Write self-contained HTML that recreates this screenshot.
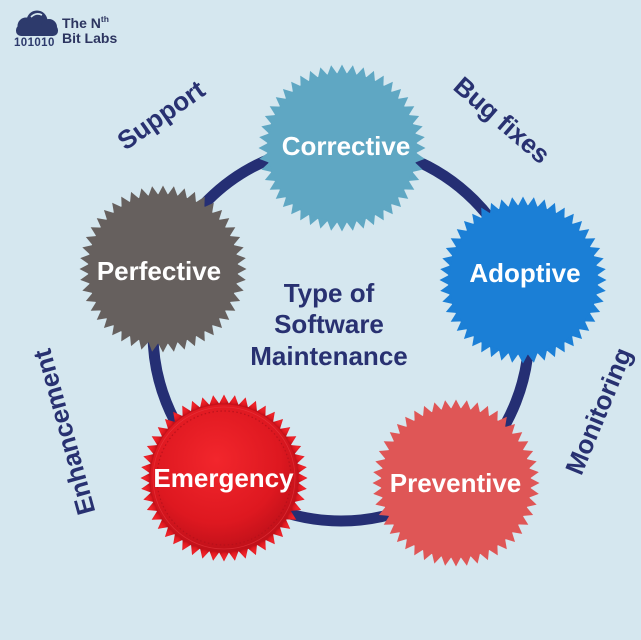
<!DOCTYPE html>
<html>
<head>
<meta charset="utf-8">
<style>
  html,body{margin:0;padding:0;background:#d5e7ef;}
  svg{display:block;}
  text{font-family:"Liberation Sans",Arial,sans-serif;font-weight:bold;}
</style>
</head>
<body>
<svg width="641" height="640" viewBox="0 0 641 640" xmlns="http://www.w3.org/2000/svg">
  <defs>
    <path id="t" d="M-5.3,-73.5 L0,-83.5 L5.3,-73.5 Z"/>
    <g id="t2"><use href="#t"/><use href="#t" transform="rotate(7.5)"/></g>
    <g id="t4"><use href="#t2"/><use href="#t2" transform="rotate(15)"/></g>
    <g id="t8"><use href="#t4"/><use href="#t4" transform="rotate(30)"/></g>
    <g id="t16"><use href="#t8"/><use href="#t8" transform="rotate(60)"/></g>
    <g id="star">
      <circle r="75"/>
      <use href="#t16"/>
      <use href="#t16" transform="rotate(120)"/>
      <use href="#t16" transform="rotate(240)"/>
    </g>
    <radialGradient id="redg" cx="45%" cy="38%" r="60%">
      <stop offset="0%" stop-color="#f2262c"/>
      <stop offset="70%" stop-color="#de1820"/>
      <stop offset="100%" stop-color="#c2111a"/>
    </radialGradient>
  </defs>

  <rect width="641" height="640" fill="#d5e7ef"/>

  <!-- logo -->
  <g fill="#2d3a6c">
    <circle cx="26" cy="26" r="8.5"/>
    <circle cx="37" cy="21" r="10.5"/>
    <circle cx="49" cy="27" r="8"/>
    <rect x="16" y="25" width="42" height="11" rx="5"/>
  </g>
  <path d="M31,17 Q36,12 42,15" stroke="#d5e7ef" stroke-width="1.6" fill="none"/>
  <text x="14" y="46" font-size="11.5" fill="#2d3a6c" letter-spacing="0.4">101010</text>
  <text x="62" y="28" font-size="14" fill="#2d3560">The N<tspan font-size="8.5" dy="-6">th</tspan></text>
  <text x="62" y="43" font-size="14" dy="0" fill="#2d3560">Bit Labs</text>

  <!-- ring -->
  <circle cx="341" cy="333" r="188" fill="none" stroke="#252f74" stroke-width="11"/>

  <!-- badges -->
  <use href="#star" transform="translate(342,148)" fill="#5fa7c3"/>
  <use href="#star" transform="translate(523,280)" fill="#1b7fd6"/>
  <use href="#star" transform="translate(456,483)" fill="#df5656"/>
  <use href="#star" transform="translate(224,478)" fill="url(#redg)"/>
  <circle cx="224" cy="478" r="67" fill="none" stroke="#b3101a" stroke-width="1.2" stroke-dasharray="1.5 2.5" opacity="0.8"/>
  <circle cx="224" cy="478" r="71" fill="none" stroke="#f04048" stroke-width="0.8" opacity="0.5"/>
  <use href="#star" transform="translate(163,269)" fill="#66605e"/>

  <!-- badge labels -->
  <g fill="#ffffff" font-size="26" text-anchor="middle">
    <text x="346" y="155">Corrective</text>
    <text x="525" y="282">Adoptive</text>
    <text x="455.5" y="492">Preventive</text>
    <text x="223.5" y="487">Emergency</text>
    <text x="159" y="280">Perfective</text>
  </g>

  <!-- center text -->
  <g fill="#283171" font-size="26" text-anchor="middle">
    <text x="329" y="302">Type of</text>
    <text x="329" y="333">Software</text>
    <text x="329" y="365">Maintenance</text>
  </g>

  <!-- rotated labels -->
  <g fill="#283171" font-size="26" text-anchor="middle">
    <text x="161" y="124" transform="rotate(-35 161 115)">Support</text>
    <text x="502" y="129" transform="rotate(40.8 502 120)">Bug fixes</text>
    <text x="598.5" y="420" transform="rotate(-67.6 598.5 411)">Monitoring</text>
    <text x="64" y="441" transform="rotate(-105.5 64 432)">Enhancement</text>
  </g>
</svg>
</body>
</html>
